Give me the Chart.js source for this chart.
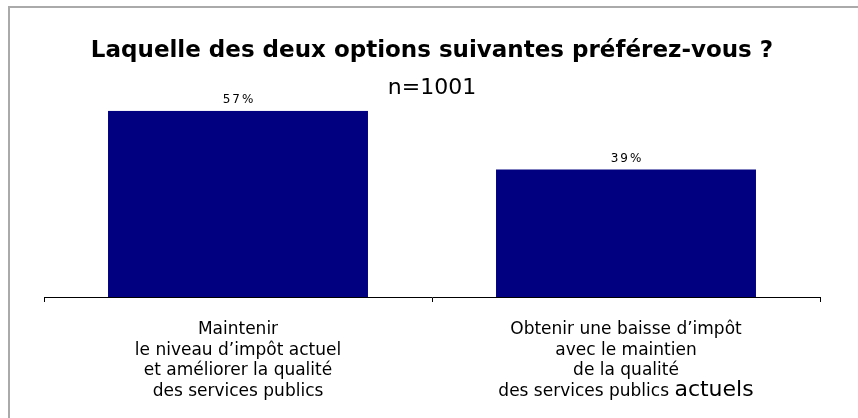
<!DOCTYPE html>
<html>
<head>
<meta charset="utf-8">
<title>Laquelle des deux options</title>
<script src="https://cdn.jsdelivr.net/npm/chart.js@4.4.1/dist/chart.umd.min.js"></script>
<style>
  html, body { margin: 0; padding: 0; background: #fff; }
  #wrap { position: relative; width: 858px; height: 418px; overflow: hidden; }
  #frame { position: absolute; left: 8px; top: 6px; width: 900px; height: 500px;
           border-left: 2px solid #aaa; border-top: 2px solid #aaa; }
  canvas { position: absolute; left: 0; top: 0; }
</style>
</head>
<body>
<div id="wrap">
  <div id="frame"></div>
  <canvas id="bar-chart" width="858" height="418"></canvas>
</div>
<script>
// donnees
const categories = [
  ["Maintenir", "le niveau d’impôt actuel", "et améliorer la qualité", "des services publics"],
  ["Obtenir une baisse d’impôt", "avec le maintien", "de la qualité", "des services publics actuels"]
];
const values = [57, 39];
const titleText = "Laquelle des deux options suivantes préférez-vous ?";
const subtitleText = "n=1001";

const FONT = "'DejaVu Sans', Verdana, sans-serif";

// etiquettes de valeur au-dessus des barres
const valueLabels = {
  id: "valueLabels",
  afterDatasetsDraw(chart) {
    const ctx = chart.ctx;
    const meta = chart.getDatasetMeta(0);
    ctx.save();
    ctx.font = "12px " + FONT;
    ctx.fillStyle = "#000";
    ctx.textAlign = "center";
    ctx.textBaseline = "middle";
    ctx.letterSpacing = "2px";
    meta.data.forEach((bar, i) => {
      ctx.fillText(values[i] + "%", bar.x + 1, bar.y - 11);
    });
    ctx.restore();
  }
};

// libelles des categories sous l'axe (le mot "actuels" est plus grand)
const categoryLabels = {
  id: "categoryLabels",
  afterDraw(chart) {
    const ctx = chart.ctx;
    const xScale = chart.scales.x;
    ctx.save();
    ctx.fillStyle = "#000";
    ctx.textBaseline = "middle";
    categories.forEach((lines, i) => {
      const x = xScale.getPixelForValue(i);
      lines.forEach((line, k) => {
        const y = xScale.top + 33 + k * 20.5;
        if (i === 1 && k === lines.length - 1) {
          const head = line.replace(/actuels$/, "");
          ctx.font = "17px " + FONT;
          const w1 = ctx.measureText(head).width;
          ctx.font = "22px " + FONT;
          const w2 = ctx.measureText("actuels").width;
          const start = x - (w1 + w2) / 2;
          ctx.textAlign = "left";
          ctx.font = "17px " + FONT;
          ctx.fillText(head, start, y);
          ctx.font = "22px " + FONT;
          ctx.fillText("actuels", start + w1, y - 1);
        } else {
          ctx.font = "17px " + FONT;
          ctx.textAlign = "center";
          ctx.fillText(line, x, y);
        }
      });
    });
    ctx.restore();
  }
};

const ctx = document.getElementById("bar-chart").getContext("2d");
new Chart(ctx, {
  type: "bar",
  data: {
    labels: categories.map(l => l.join(" ")),
    datasets: [{
      data: values,
      backgroundColor: "#000080",
      borderWidth: 0,
      barPercentage: 1,
      categoryPercentage: 0.67
    }]
  },
  options: {
    responsive: false,
    animation: false,
    layout: { padding: { left: 44, right: 38, top: 0, bottom: 116 } },
    plugins: {
      legend: { display: false },
      tooltip: { enabled: false },
      title: {
        display: true,
        text: titleText,
        color: "#000",
        font: { family: FONT, size: 23, weight: "bold", lineHeight: 1 },
        padding: { top: 40, bottom: 15 }
      },
      subtitle: {
        display: true,
        text: subtitleText,
        color: "#000",
        font: { family: FONT, size: 22, lineHeight: 0.9 },
        padding: { top: 0, bottom: 13 }
      }
    },
    scales: {
      x: {
        grid: { drawOnChartArea: false, offset: true, tickLength: 5, color: "#000" },
        border: { color: "#000", width: 1 },
        ticks: { display: false }
      },
      y: { display: false, min: 0, max: 57 }
    }
  },
  plugins: [valueLabels, categoryLabels]
});
</script>
</body>
</html>
